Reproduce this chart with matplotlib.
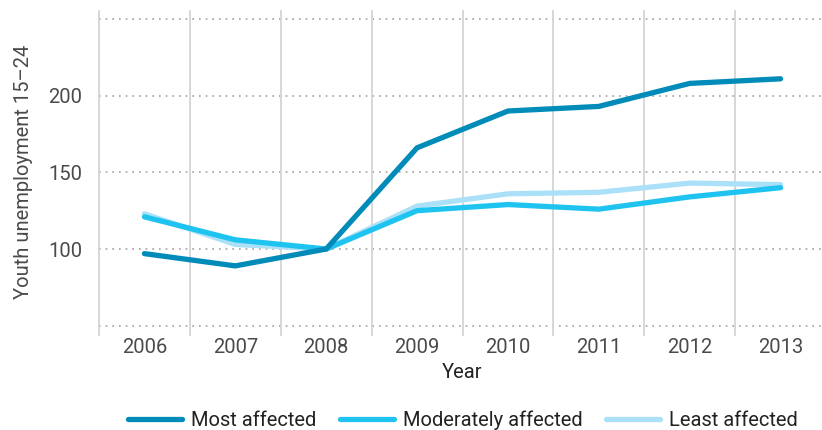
import matplotlib.pyplot as plt

years = ['2006', '2007', '2008', '2009', '2010', '2011', '2012', '2013']
most = [97, 89, 100, 166, 190, 193, 208, 211]
moderately = [121, 106, 100, 125, 129, 126, 134, 140]
least = [123, 103, 100, 128, 136, 137, 143, 142]

plt.rcParams['font.family'] = ['Roboto', 'DejaVu Sans']
txt = '#4a4a4a'

fig = plt.figure(figsize=(8.22, 4.30), dpi=100)
ax = fig.add_axes([99 / 822, 1 - 325.7 / 430, 727 / 822, (325.7 - 19) / 430])

x = range(len(years))
ax.plot(x, least, color='#abe1f8', lw=3.8, solid_capstyle='round', label='Least affected', zorder=3)
ax.plot(x, moderately, color='#1ec3f0', lw=3.8, solid_capstyle='round', label='Moderately affected', zorder=4)
ax.plot(x, most, color='#008bb8', lw=3.8, solid_capstyle='round', label='Most affected', zorder=5)

ax.set_xlim(-0.5, 7.5)
ax.set_ylim(50, 250)

# horizontal dotted grid
for v in [50, 100, 150, 200, 250]:
    ax.axhline(v, color='#a0a0a0', lw=1.2, ls=(0, (1, 3)), zorder=1, clip_on=False)
# vertical separators between years
for b in range(8):
    ax.axvline(b - 0.5, ymin=-0.03, ymax=1.027, color='#d4d4d4', lw=1.3, zorder=1, clip_on=False)

ax.set_yticks([100, 150, 200])
ax.set_xticks(list(x))
ax.set_xticklabels(years)
ax.tick_params(length=0, labelsize=14.5, labelcolor=txt)
ax.tick_params(axis='y', pad=12)
ax.tick_params(axis='x', pad=9)
for s in ax.spines.values():
    s.set_visible(False)

ax.set_ylabel('Youth unemployment 15\u201324', fontsize=14.5, color=txt, labelpad=11)
ax.set_xlabel('Year', fontsize=14.5, color='#222222', labelpad=4)

h, l = ax.get_legend_handles_labels()
order = [2, 1, 0]
fig.legend([h[i] for i in order], [l[i] for i in order], loc='center', ncol=3,
           bbox_to_anchor=(463 / 822, 1 - 420 / 430), frameon=False, fontsize=14.5,
           handlelength=2.7, handletextpad=0.45, columnspacing=1.15, labelcolor='#222222')

fig.savefig('out.png', dpi=100)
